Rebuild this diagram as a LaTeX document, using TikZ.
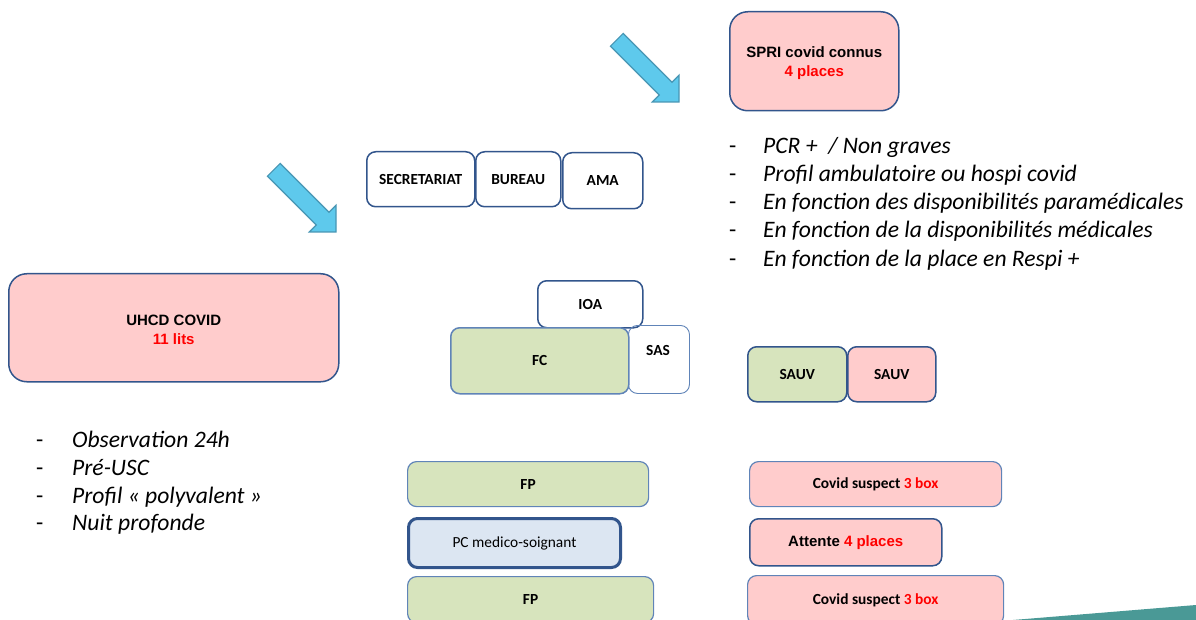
\documentclass[tikz,border=0pt]{standalone}
\usepackage{fontspec}
\setmainfont{Carlito}
\newfontfamily\arialfont{Liberation Sans}

\definecolor{pinkf}{RGB}{255,204,204}
\definecolor{greenf}{RGB}{215,228,189}
\definecolor{bluef}{RGB}{220,230,242}
\definecolor{bdark}{RGB}{50,85,140}
\definecolor{blight}{RGB}{96,132,184}
\definecolor{redt}{RGB}{255,0,0}
\definecolor{arrowf}{RGB}{94,201,236}
\definecolor{arrowd}{RGB}{72,150,180}
\definecolor{tealw}{RGB}{74,153,150}

\tikzset{
  room/.style={draw=bdark, line width=1.5pt, rounded corners=9pt, inner sep=0pt,
    anchor=north west, align=center, text=black,
    font=\fontsize{15.4}{19}\selectfont\bfseries},
  roomlight/.style={room, draw=blight, line width=1.2pt},
  arialbox/.style={font=\arialfont\bfseries\fontsize{15}{19}\selectfont},
  listtext/.style={anchor=base west, inner sep=0pt, font=\fontsize{23.6}{28}\selectfont\itshape},
  listdash/.style={anchor=base west, inner sep=0pt, font=\fontsize{23.6}{28}\selectfont},
  bluearrow/.pic={
    \filldraw[fill=arrowf, draw=arrowd, line width=1.2pt, line join=miter]
      (0,0) -- (0,-26.8) -- (-7,-19.8) -- (-55.8,-68.6) -- (-68.6,-55.8)
      -- (-19.8,-7) -- (-26.8,0) -- cycle;
  }
}

\begin{document}
\begin{tikzpicture}[x=1pt,y=-1pt]
  \clip (0,0) rectangle (1196,620);
  \fill[white] (0,0) rectangle (1196,620);

  % pointing arrows
  \pic at (336,232) {bluearrow};
  \pic at (679,102) {bluearrow};

  % SPRI block and its notes
  \node[room, arialbox, fill=pinkf, rounded corners=18pt,
        minimum width=169, minimum height=99] (spri) at (729,11)
        {\rule{0pt}{15pt}SPRI covid connus\\\textcolor{redt}{4 places}};

  \foreach \t [count=\i] in {PCR + \ / Non graves,
      Profil ambulatoire ou hospi covid,
      En fonction des disponibilités paramédicales,
      En fonction de la disponibilités médicales,
      En fonction de la place en Respi +} {
    \node[listdash] (rd\i) at (729,{154+28*(\i-1)}) {-};
    \node[listtext] (rl\i) at (763,{154+28*(\i-1)}) {\t};
  }

  % administrative row
  \node[room, minimum width=108, minimum height=55] (secr) at (366,151) {SECRETARIAT};
  \node[room, minimum width=85, minimum height=55] (bureau) at (475,151) {BUREAU};
  \node[room, minimum width=80, minimum height=56] (ama) at (562,152) {AMA};

  % UHCD block and its notes
  \node[room, arialbox, fill=pinkf, rounded corners=18pt,
        minimum width=330, minimum height=108] (uhcd) at (8,273)
        {\rule{0pt}{14pt}UHCD COVID\\\textcolor{redt}{11 lits}};

  \foreach \t [count=\i] in {Observation 24h, Pré-USC,
      Profil « polyvalent », Nuit profonde} {
    \node[listdash] (ld\i) at (36,{447.4+27.8*(\i-1)}) {-};
    \node[listtext] (ll\i) at (72,{447.4+27.8*(\i-1)}) {\t};
  }

  % reception area
  \node[room, minimum width=105, minimum height=47] (ioa) at (537,280) {IOA};
  \node[room, fill=greenf, draw=blight, minimum width=178, minimum height=66] (fc) at (450,327) {FC};
  \node[roomlight, line width=0.9pt, minimum width=61, minimum height=68] (sas) at (628,325) {};
  \node[font=\fontsize{15.4}{19}\selectfont\bfseries, inner sep=0pt] (sastext) at (658,351) {SAS};

  % resuscitation
  \node[room, fill=greenf, minimum width=99, minimum height=55] (sauv1) at (747,346) {SAUV};
  \node[room, fill=pinkf, minimum width=88, minimum height=55] (sauv2) at (847,346) {SAUV};

  % left column
  \node[roomlight, fill=greenf, minimum width=241, minimum height=45] (fp1) at (407,461) {FP};
  \node[room, fill=bluef, line width=3pt, font=\fontsize{15.4}{19}\selectfont,
        minimum width=212, minimum height=49] (pc) at (407,517) {PC medico-soignant};
  \node[roomlight, fill=greenf, minimum width=246, minimum height=46] (fp2) at (407,576) {FP};

  % right column
  \node[roomlight, fill=pinkf, minimum width=252, minimum height=45] (cs1) at (749,461)
        {Covid suspect \textcolor{redt}{3 box}};
  \node[room, arialbox, fill=pinkf, minimum width=192, minimum height=47] (att) at (749,518)
        {Attente \textcolor{redt}{4 places}};
  \node[roomlight, fill=pinkf, minimum width=256, minimum height=49] (cs2) at (747,575)
        {Covid suspect \textcolor{redt}{3 box}};

  % corner band
  \fill[tealw] (1013,620) -- (1196,605) -- (1196,620) -- cycle;
\end{tikzpicture}
\end{document}
